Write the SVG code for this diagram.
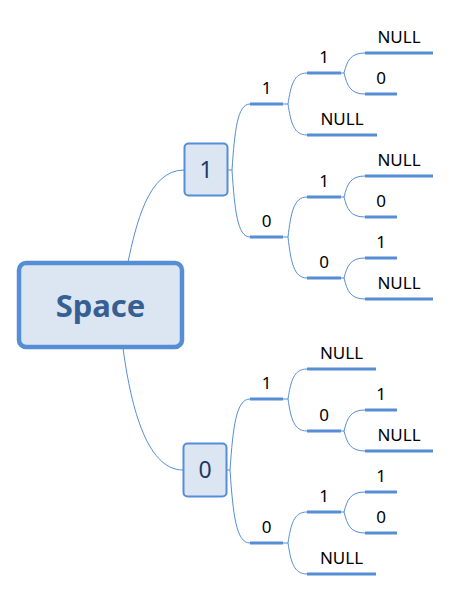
<svg xmlns="http://www.w3.org/2000/svg" width="451" height="591" viewBox="0 0 451 591">
<style>
.conn{fill:none;stroke:#558ed5;stroke-width:1}
.ul{stroke:#558ed5;stroke-width:3}
.lbl{font-family:"Noto Sans","DejaVu Sans",sans-serif;font-size:17px;text-anchor:middle;fill:#000}
.box{fill:#dce6f2;stroke:#558ed5;stroke-width:2}
.boxt{font-family:"Noto Sans","DejaVu Sans",sans-serif;font-size:23px;text-anchor:middle;fill:#1f3864}
</style>
<rect width="451" height="591" fill="#fff"/>
<g id="connectors">
<path class="conn" d="M128,262 C136,225 148,170 184,170"/>
<path class="conn" d="M123,348 C130,400 145,470 183,470"/>
<path class="conn" d="M228,170 H232 C234.7,130.4 237.4,104 250,104"/>
<path class="conn" d="M232,170 C234.7,210.2 237.4,237 250,237"/>
<path class="conn" d="M226,470 H230 C233,427.4 236,399 250,399"/>
<path class="conn" d="M230,470 C233,513.8 236,543 250,543"/>
<path class="conn" d="M283,104 H288 C290.85,85.4 293.7,73 307,73"/>
<path class="conn" d="M288,104 C290.85,122.6 293.7,135 307,135"/>
<path class="conn" d="M283,237 H288 C290.85,213 293.7,197 307,197"/>
<path class="conn" d="M288,237 C290.85,261.6 293.7,278 307,278"/>
<path class="conn" d="M283,399 H288 C290.85,381 293.7,369 307,369"/>
<path class="conn" d="M288,399 C290.85,418.2 293.7,431 307,431"/>
<path class="conn" d="M283,543 H288 C290.85,524.4 293.7,512 307,512"/>
<path class="conn" d="M288,543 C290.85,561.6 293.7,574 307,574"/>
<path class="conn" d="M341,73 H344 C347.15,61 350.3,53 365,53"/>
<path class="conn" d="M344,73 C347.15,85.6 350.3,94 365,94"/>
<path class="conn" d="M341,197 H344 C347.15,184.4 350.3,176 365,176"/>
<path class="conn" d="M344,197 C347.15,209 350.3,217 365,217"/>
<path class="conn" d="M341,278 H344 C347.15,266 350.3,258 365,258"/>
<path class="conn" d="M344,278 C347.15,290.6 350.3,299 365,299"/>
<path class="conn" d="M341,431 H344 C347.15,418.4 350.3,410 365,410"/>
<path class="conn" d="M344,431 C347.15,443 350.3,451 365,451"/>
<path class="conn" d="M341,512 H344 C347.15,500 350.3,492 365,492"/>
<path class="conn" d="M344,512 C347.15,524.6 350.3,533 365,533"/>
</g>
<g id="space">
<rect x="19" y="263" width="163" height="84" rx="7" fill="#dce6f2" stroke="#558ed5" stroke-width="4.5"/>
<text x="100.5" y="317" font-family="'Noto Sans','DejaVu Sans',sans-serif" font-size="31" font-weight="bold" text-anchor="middle" fill="#376092">Space</text>
</g>
<g id="n1">
<rect class="box" x="184.5" y="143.5" width="43" height="52" rx="4"/>
<text class="boxt" x="206" y="178">1</text>
</g>
<g id="n0">
<rect class="box" x="183.5" y="443.5" width="43" height="53" rx="4"/>
<text class="boxt" x="205" y="478">0</text>
</g>
<g id="n1-1"><line class="ul" x1="250" y1="104" x2="283" y2="104"/><text class="lbl" x="266.5" y="94">1</text></g>
<g id="n1-1-1"><line class="ul" x1="307" y1="73" x2="341" y2="73"/><text class="lbl" x="324" y="63">1</text></g>
<g id="n1-1-1-1"><line class="ul" x1="365" y1="53" x2="433" y2="53"/><text class="lbl" x="399" y="43">NULL</text></g>
<g id="n1-1-1-0"><line class="ul" x1="365" y1="94" x2="397" y2="94"/><text class="lbl" x="381" y="84">0</text></g>
<g id="n1-1-0"><line class="ul" x1="307" y1="135" x2="377" y2="135"/><text class="lbl" x="342" y="125">NULL</text></g>
<g id="n1-0"><line class="ul" x1="250" y1="237" x2="283" y2="237"/><text class="lbl" x="266.5" y="227">0</text></g>
<g id="n1-0-1"><line class="ul" x1="307" y1="197" x2="341" y2="197"/><text class="lbl" x="324" y="187">1</text></g>
<g id="n1-0-1-1"><line class="ul" x1="365" y1="176" x2="433" y2="176"/><text class="lbl" x="399" y="166">NULL</text></g>
<g id="n1-0-1-0"><line class="ul" x1="365" y1="217" x2="397" y2="217"/><text class="lbl" x="381" y="207">0</text></g>
<g id="n1-0-0"><line class="ul" x1="307" y1="278" x2="341" y2="278"/><text class="lbl" x="324" y="268">0</text></g>
<g id="n1-0-0-1"><line class="ul" x1="365" y1="258" x2="397" y2="258"/><text class="lbl" x="381" y="248">1</text></g>
<g id="n1-0-0-0"><line class="ul" x1="365" y1="299" x2="433" y2="299"/><text class="lbl" x="399" y="289">NULL</text></g>
<g id="n0-1"><line class="ul" x1="250" y1="399" x2="283" y2="399"/><text class="lbl" x="266.5" y="389">1</text></g>
<g id="n0-1-1"><line class="ul" x1="307" y1="369" x2="376" y2="369"/><text class="lbl" x="341.5" y="359">NULL</text></g>
<g id="n0-1-0"><line class="ul" x1="307" y1="431" x2="341" y2="431"/><text class="lbl" x="324" y="421">0</text></g>
<g id="n0-1-0-1"><line class="ul" x1="365" y1="410" x2="397" y2="410"/><text class="lbl" x="381" y="400">1</text></g>
<g id="n0-1-0-0"><line class="ul" x1="365" y1="451" x2="433" y2="451"/><text class="lbl" x="399" y="441">NULL</text></g>
<g id="n0-0"><line class="ul" x1="250" y1="543" x2="283" y2="543"/><text class="lbl" x="266.5" y="533">0</text></g>
<g id="n0-0-1"><line class="ul" x1="307" y1="512" x2="341" y2="512"/><text class="lbl" x="324" y="502">1</text></g>
<g id="n0-0-1-1"><line class="ul" x1="365" y1="492" x2="397" y2="492"/><text class="lbl" x="381" y="482">1</text></g>
<g id="n0-0-1-0"><line class="ul" x1="365" y1="533" x2="397" y2="533"/><text class="lbl" x="381" y="523">0</text></g>
<g id="n0-0-0"><line class="ul" x1="307" y1="574" x2="376" y2="574"/><text class="lbl" x="341.5" y="564">NULL</text></g>
</svg>
